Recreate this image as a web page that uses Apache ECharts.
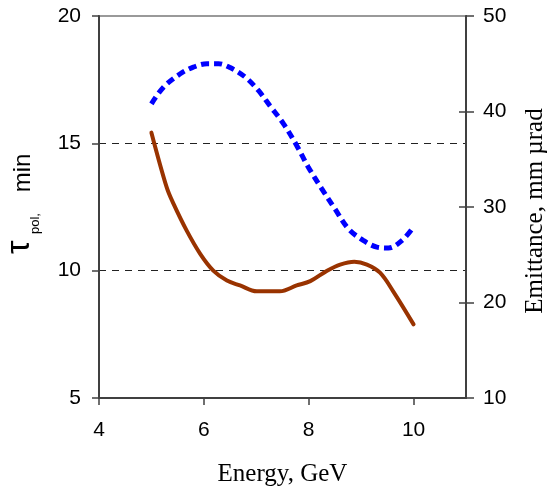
<!DOCTYPE html>
<html><head><meta charset="utf-8">
<script src="https://cdn.jsdelivr.net/npm/echarts@6/dist/echarts.min.js"></script>
<style>html,body{margin:0;padding:0;background:#fff}#c{width:548px;height:489px}</style>
</head><body><div id="c"></div>
<script>
const tauEnergy = [5.0, 5.29, 5.42, 5.67, 5.93, 6.18, 6.44, 6.69, 7.01, 7.45, 7.77, 8.03, 8.35, 8.6, 8.87, 9.11, 9.36, 9.62, 10.0];
const tauValues = [15.42, 13.28, 12.63, 11.58, 10.66, 10.0, 9.61, 9.42, 9.19, 9.19, 9.42, 9.59, 10.0, 10.24, 10.35, 10.24, 9.92, 9.16, 7.89];
const emitEnergy = [5.0, 5.23, 5.55, 5.8, 6.06, 6.28, 6.5, 6.79, 7.04, 7.26, 7.52, 7.77, 7.99, 8.25, 8.5, 8.76, 9.04, 9.3, 9.52, 9.78, 10.0];
const emitValues = [40.8, 42.55, 43.95, 44.65, 45.0, 45.0, 44.6, 43.6, 42.2, 40.6, 38.7, 36.45, 34.2, 31.9, 29.8, 27.7, 26.5, 25.8, 25.7, 26.5, 27.9];
const xTicks = [4, 6, 8, 10];
const leftTicks = [5, 10, 15, 20];
const rightTicks = [10, 20, 30, 40, 50];

const zip = (a, b) => a.map((v, i) => [v, b[i]]);
const chart = echarts.init(document.getElementById('c'), null, {renderer: 'canvas'});
const axisColor = '#404040';
const R = Math.PI / 2;
chart.setOption({
  animation: false,
  grid: {left: 99, right: 82, top: 16, bottom: 91, containLabel: false, outerBoundsMode: 'none',
    show: true, borderColor: '#999', borderWidth: 2, backgroundColor: 'transparent'},
  graphic: [
    {type: 'text', x: 37, y: 254, rotation: R, style: {text: 'τ', fontFamily: 'Liberation Sans', fontSize: 34, fill: '#000', align: 'left', verticalAlign: 'bottom'}},
    {type: 'text', x: 42, y: 234, rotation: R, style: {text: 'pol,', fontFamily: 'Liberation Sans', fontSize: 13, fill: '#000', align: 'left', verticalAlign: 'bottom'}},
    {type: 'text', x: 35, y: 199, rotation: R, style: {text: ' min', fontFamily: 'Liberation Sans', fontSize: 24, fill: '#000', align: 'left', verticalAlign: 'bottom'}}
  ],
  xAxis: {
    type: 'value', min: 4, max: 11, interval: 2,
    name: 'Energy, GeV', nameLocation: 'middle', nameGap: 64,
    nameTextStyle: {fontFamily: 'Liberation Serif', fontSize: 25, color: '#000'},
    axisLine: {lineStyle: {color: axisColor, width: 2}},
    axisTick: {length: 7, lineStyle: {color: axisColor, width: 1.5}},
    axisLabel: {fontFamily: 'Liberation Sans', fontSize: 21, color: '#000', margin: 22,
      showMaxLabel: false, formatter: v => xTicks.includes(v) ? String(v) : ''},
    splitLine: {show: false}
  },
  yAxis: [{
    type: 'value', min: 5, max: 20, interval: 5, position: 'left',
    axisLine: {show: true, lineStyle: {color: axisColor, width: 2}},
    axisTick: {show: true, length: 7, lineStyle: {color: axisColor, width: 1.5}},
    axisLabel: {fontFamily: 'Liberation Sans', fontSize: 21, color: '#000', margin: 18,
      formatter: v => leftTicks.includes(v) ? String(v) : ''},
    splitLine: {show: true, showMinLine: false, showMaxLine: false, lineStyle: {color: '#222', type: [7, 6], width: 1}}
  }, {
    type: 'value', min: 10, max: 50, interval: 10, position: 'right',
    name: 'Emittance, mm µrad', nameLocation: 'middle', nameRotate: 90, nameGap: 57,
    nameTextStyle: {fontFamily: 'Liberation Serif', fontSize: 25, color: '#000', padding: [0, 8, 0, 0]},
    axisLine: {show: true, lineStyle: {color: axisColor, width: 2}},
    axisTick: {show: true, length: 8, lineStyle: {color: axisColor, width: 1.5}},
    axisLabel: {fontFamily: 'Liberation Sans', fontSize: 21, color: '#000', margin: 17,
      formatter: v => rightTicks.includes(v) ? String(v) : ''},
    splitLine: {show: false}
  }, {
    type: 'value', min: 10, max: 50, interval: 10, position: 'right',
    axisLine: {show: false},
    axisTick: {show: true, inside: true, length: 7, showMinLine: false, lineStyle: {color: axisColor, width: 1.5},
      customValues: [20, 30, 40]},
    axisLabel: {show: false},
    splitLine: {show: false}
  }],
  series: [{
    type: 'line', yAxisIndex: 0, data: zip(tauEnergy, tauValues), smooth: 0.35,
    symbol: 'none', lineStyle: {color: '#993300', width: 4, cap: 'round'}
  }, {
    type: 'line', yAxisIndex: 1, data: zip(emitEnergy, emitValues), smooth: 0.35,
    symbol: 'none', lineStyle: {color: '#0000ff', width: 5, type: [8, 5]}
  }]
});
</script></body></html>
